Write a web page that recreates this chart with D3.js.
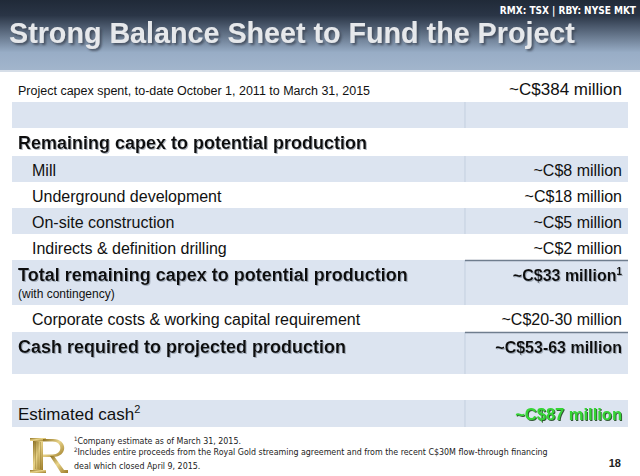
<!DOCTYPE html>
<html>
<head>
<meta charset="utf-8">
<script src="https://cdn.jsdelivr.net/npm/d3@7"></script>
<style>
  body { margin: 0; background: #fff; }
  svg { display: block; font-family: "Liberation Sans", Arial, sans-serif; }
</style>
</head>
<body>
<div id="slide"></div>
<script>
// Slide data
const titleText = "Strong Balance Sheet to Fund the Project";
const tickerText = "RMX: TSX | RBY: NYSE MKT";

const rowLabels = [
  "Project capex spent, to-date October 1, 2011 to March 31, 2015",
  "",
  "Remaining capex to potential production",
  "Mill",
  "Underground development",
  "On-site construction",
  "Indirects & definition drilling",
  "Total remaining capex to potential production",
  "Corporate costs & working capital requirement",
  "Cash required to projected production",
  "",
  "Estimated cash"
];
const rowValues = [
  "~C$384 million", "", "", "~C$8 million", "~C$18 million", "~C$5 million",
  "~C$2 million", "~C$33 million", "~C$20-30 million", "~C$53-63 million", "", "~C$87 million"
];
const rowKinds = ["intro", "blank", "heading", "item", "item", "item", "item",
                  "total", "item", "total", "gap", "cash"];
const labelNotes = ["", "", "", "", "", "", "", "", "", "", "", "2"];
const valueNotes = ["", "", "", "", "", "", "", "1", "", "", "", ""];
const subLabels = ["", "", "", "", "", "", "", "(with contingency)", "", "", "", ""];

const footnotes = [
  ["1", "Company estimate as of March 31, 2015."],
  ["2", "Includes entire proceeds from the Royal Gold streaming agreement and from the recent C$30M flow-through financing"],
  ["", "deal which closed April 9, 2015."]
];
const pageNumber = "18";

// layout
const W = 640, H = 476;
const rowHeights = [25, 26, 28, 26, 26, 26, 26, 45, 27, 42, 26, 27];
const tableTop = 77, tableLeft = 12, tableRight = 628, divider = 465, valueRight = 622;

const svg = d3.select("#slide").append("svg")
  .attr("width", W).attr("height", H);

const defs = svg.append("defs");

let grad = defs.append("linearGradient").attr("id", "hdr")
  .attr("x1", 0).attr("y1", 0).attr("x2", 0).attr("y2", 1);
grad.append("stop").attr("offset", "0%").attr("stop-color", "#202a38");
grad.append("stop").attr("offset", "22%").attr("stop-color", "#2a3546");
grad.append("stop").attr("offset", "75%").attr("stop-color", "#98adc6");
grad.append("stop").attr("offset", "100%").attr("stop-color", "#a2b5cc");

let gold = defs.append("linearGradient").attr("id", "gold")
  .attr("x1", 0).attr("y1", 0).attr("x2", 1).attr("y2", 1);
gold.append("stop").attr("offset", "0%").attr("stop-color", "#8a6d1e");
gold.append("stop").attr("offset", "45%").attr("stop-color", "#e9d48a");
gold.append("stop").attr("offset", "100%").attr("stop-color", "#9c7b26");

defs.append("filter").attr("id", "titleShadow")
  .attr("x", "-5%").attr("y", "-20%").attr("width", "110%").attr("height", "150%")
  .append("feDropShadow").attr("dx", 2).attr("dy", 2).attr("stdDeviation", 1)
  .attr("flood-color", "#3a4452").attr("flood-opacity", 0.8);

defs.append("filter").attr("id", "softShadow")
  .append("feDropShadow").attr("dx", 1).attr("dy", 1).attr("stdDeviation", 0.6)
  .attr("flood-color", "#7d8794").attr("flood-opacity", 0.6);

defs.append("filter").attr("id", "greenShadow")
  .append("feDropShadow").attr("dx", 1).attr("dy", 1).attr("stdDeviation", 0.5)
  .attr("flood-color", "#1d4a1d").attr("flood-opacity", 0.9);

// header band
svg.append("rect").attr("x", 0).attr("y", 0).attr("width", W).attr("height", 70)
  .attr("fill", "url(#hdr)");
svg.append("rect").attr("x", 0).attr("y", 70).attr("width", W).attr("height", 2)
  .attr("fill", "#d6dee8");

svg.append("text")
  .attr("x", 636).attr("y", 14)
  .attr("text-anchor", "end")
  .attr("fill", "#ffffff")
  .style("font-family", "'DejaVu Sans Condensed', 'DejaVu Sans', sans-serif")
  .style("font-weight", "bold")
  .style("font-size", "10px")
  .text(tickerText);

svg.append("text")
  .attr("x", 9).attr("y", 43)
  .attr("fill", "#e6e8eb")
  .attr("filter", "url(#titleShadow)")
  .style("font-weight", "bold")
  .style("font-size", "28.7px")
  .text(titleText);

// table rows
const tops = [tableTop].concat(Array.from(d3.cumsum(rowHeights)).map(h => tableTop + h));
const rows = rowLabels.map((label, i) => ({
  label: label, value: rowValues[i], kind: rowKinds[i],
  labelNote: labelNotes[i], valueNote: valueNotes[i], sub: subLabels[i],
  top: tops[i], height: rowHeights[i], shaded: i % 2 === 1
}));

const rowG = svg.append("g").selectAll("g.row")
  .data(rows)
  .join("g")
  .attr("class", "row")
  .attr("transform", d => `translate(0, ${d.top})`);

rowG.filter(d => d.shaded).append("rect")
  .attr("x", tableLeft).attr("width", tableRight - tableLeft)
  .attr("height", d => d.height)
  .attr("fill", "#dce4f0");

rowG.filter(d => d.shaded).append("line")
  .attr("x1", divider).attr("x2", divider)
  .attr("y1", 0).attr("y2", d => d.height)
  .attr("stroke", "#c3cfdf").attr("stroke-width", 1);

// dark rule above the bold totals (value column only)
rowG.filter(d => d.kind === "total").append("line")
  .attr("x1", divider).attr("x2", tableRight)
  .attr("y1", 0.5).attr("y2", 0.5)
  .attr("stroke", "#6f7d8e").attr("stroke-width", 1.5);

const labelX = { intro: 18, heading: 18, item: 32, total: 18, cash: 18 };
const labelSize = { intro: 12.5, heading: 18, item: 16, total: 18, cash: 17 };
const labelBase = { intro: 18, heading: 21, item: 20, total: 21, cash: 20 };

let labels = rowG.filter(d => d.label !== "").append("text")
  .attr("x", d => labelX[d.kind])
  .attr("y", d => labelBase[d.kind])
  .attr("fill", "#111")
  .attr("filter", d => (d.kind === "heading" || d.kind === "total") ? "url(#softShadow)" : null)
  .style("font-size", d => labelSize[d.kind] + "px")
  .style("font-weight", d => (d.kind === "heading" || d.kind === "total") ? "bold" : "normal");

labels.append("tspan").text(d => d.label);
labels.filter(d => d.labelNote !== "").append("tspan")
  .attr("dy", -7).style("font-size", "11px").text(d => d.labelNote);

rowG.filter(d => d.sub !== "").append("text")
  .attr("x", 18).attr("y", 38)
  .attr("fill", "#111")
  .style("font-size", "12px")
  .text(d => d.sub);

const valueSize = { intro: 17, item: 16, total: 16, cash: 16.5 };

let values = rowG.filter(d => d.value !== "").append("text")
  .attr("x", valueRight)
  .attr("y", d => labelBase[d.kind])
  .attr("text-anchor", "end")
  .attr("fill", d => d.kind === "cash" ? "#36d436" : "#111")
  .attr("filter", d => d.kind === "cash" ? "url(#greenShadow)" : (d.kind === "total" ? "url(#softShadow)" : null))
  .style("font-size", d => valueSize[d.kind] + "px")
  .style("font-weight", d => (d.kind === "total" || d.kind === "cash") ? "bold" : "normal");

values.append("tspan").text(d => d.value);
values.filter(d => d.valueNote !== "").append("tspan")
  .attr("dy", -6).style("font-size", "10px").text(d => d.valueNote);

// logo: column-stem "R" drawn as shapes
let logo = svg.append("g").attr("transform", "translate(30, 438)");
logo.append("rect").attr("x", 0).attr("y", 0).attr("width", 16).attr("height", 3)
  .attr("fill", "url(#gold)");
logo.append("rect").attr("x", 3).attr("y", 3).attr("width", 10).attr("height", 29)
  .attr("fill", "url(#gold)");
logo.append("rect").attr("x", 0).attr("y", 32).attr("width", 16).attr("height", 3)
  .attr("fill", "url(#gold)");
[5.5, 8, 10.5].forEach(fx => {
  logo.append("line").attr("x1", fx).attr("x2", fx).attr("y1", 4).attr("y2", 31)
    .attr("stroke", "#7e6418").attr("stroke-width", 0.6).attr("opacity", 0.6);
});
logo.append("path")
  .attr("d", "M13,1 H23 C38,1 38,19 23,19 H13 V16.5 H22.5 C33,16.5 33,3.5 22.5,3.5 H13 Z")
  .attr("fill", "url(#gold)");
logo.append("path")
  .attr("d", "M20,18 L24,18 L34,32 L38,32 L38,35 L31,35 Z")
  .attr("fill", "url(#gold)");

// footnotes
const fn = svg.append("g").selectAll("text")
  .data(footnotes)
  .join("text")
  .attr("x", 74)
  .attr("y", (d, i) => 444 + i * 11)
  .attr("fill", "#222")
  .style("font-family", "'DejaVu Sans Condensed', 'DejaVu Sans', sans-serif")
  .style("font-size", "8.8px");
fn.append("tspan").attr("dy", -3).style("font-size", "6px").text(d => d[0]);
fn.append("tspan").attr("dy", 3).text(d => d[1]);

svg.append("text")
  .attr("x", 621).attr("y", 467)
  .attr("text-anchor", "end")
  .attr("fill", "#222")
  .style("font-weight", "bold")
  .style("font-size", "11px")
  .text(pageNumber);
</script>
</body>
</html>
